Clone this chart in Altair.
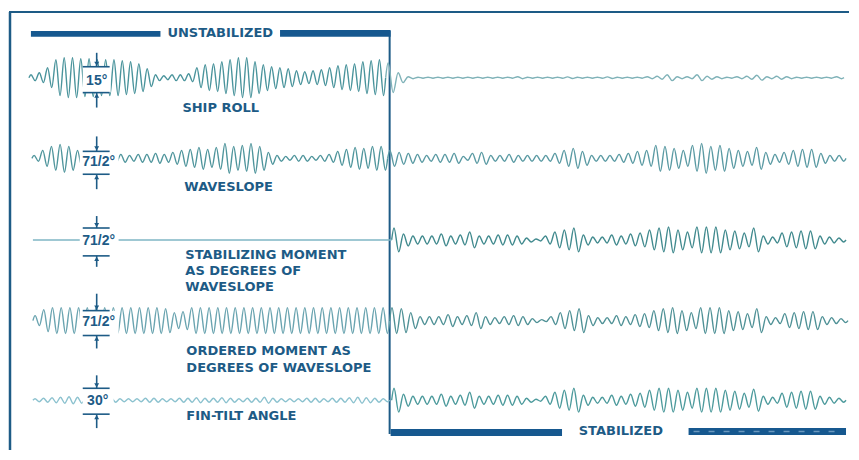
import altair as alt
import pandas as pd

# ---------------- data ----------------
# per-cycle amplitudes (chart units) of each oscillograph trace
roll_unstab = [3, 5, 10, 18, 20, 20, 19, 19, 18, 18, 18, 17, 16, 14, 9, 3, 2, 3, 3, 4, 10, 13,
               14, 16, 18, 20, 20, 16, 13, 11, 10, 9, 7, 6, 7, 8, 10, 12, 13, 14, 16, 17, 18]
roll_stab = [15, 5, 1, 0.5, 0.5, 0.5, 0.5, 0.5, 0.5, 0.5, 0.5, 0.5, 0.5, 1, 0.5, 0.5, 0.5, 0.5,
             0.8, 0.5, 0.5, 0.5, 0.8, 0.5, 0.5, 0.5, 1, 1.5, 3, 1, 1, 3, 1.5, 1, 0.5, 1, 1.5, 2.5,
             1, 1.5, 1, 0.5, 0.5, 0.5, 0.5, 1]
wave_unstab = [3, 8, 12, 14, 12, 8, 5, 4, 4, 4, 4, 3, 4, 4, 5, 4, 6, 8, 9, 11, 9, 11, 15, 12,
               13, 15, 12, 6, 3, 2, 3, 3, 2, 3, 4, 7, 9, 11, 10, 12, 12]
wave_stab = [8, 6, 5, 4, 3, 4, 4, 5, 2, 5, 6, 3, 3, 4, 3, 3, 3, 3, 5, 8, 10, 7, 3, 3, 3, 4, 5,
             7, 8, 13, 12, 10, 8, 13, 15, 12, 13, 10, 8, 7, 11, 6, 4, 6, 8, 9, 9, 5, 3, 3]
stabmom_stab = [12, 6, 4, 4, 4, 6, 4, 5, 8, 4, 4, 5, 5, 4, 2, 1, 4, 8, 10, 12, 5, 3, 3, 5, 4,
                6, 7, 10, 12, 13, 10, 8, 13, 13, 13, 10, 9, 7, 12, 4, 3, 7, 8, 9, 9, 4, 3, 2]
ordmom_unstab = [5, 11, 13, 13, 13, 13, 13, 13, 13, 13, 13, 13, 13, 13, 13, 12, 8, 9, 13, 13,
                 13, 13, 13, 13, 13, 13, 13, 13, 13, 13, 13, 13, 13, 13, 13, 13, 13, 13, 13, 13, 13]
ordmom_stab = [13, 12, 8, 4, 4, 4, 6, 4, 5, 8, 4, 3, 4, 5, 4, 2, 1, 4, 8, 10, 12, 5, 3, 3, 5,
               4, 6, 7, 10, 12, 13, 10, 8, 13, 13, 13, 10, 9, 7, 12, 4, 3, 7, 8, 9, 9, 4, 3, 2]
fin_unstab = [1.5, 2, 2.5, 3, 3.5, 3, 2.5, 2, 2, 2, 1.5, 1.5, 1.5, 2, 2, 1.5, 1.5, 2, 2, 2.5,
              2, 2, 2.5, 2, 1.5, 2, 2, 3, 2, 1.5, 1.5, 1.5, 2, 2, 1.5, 2, 2, 2.5, 3, 2.5, 2, 1.5]
fin_stab = [12, 6, 4, 4, 4, 6, 4, 5, 8, 4, 4, 5, 5, 4, 2, 1, 4, 8, 10, 12, 5, 3, 3, 5, 4,
            6, 7, 10, 12, 12, 10, 8, 12, 12, 12, 10, 9, 7, 11, 4, 3, 7, 8, 9, 9, 4, 3, 2]

trace_names = ["SHIP ROLL", "WAVESLOPE", "STABILIZING MOMENT AS DEGREES OF WAVESLOPE",
               "ORDERED MOMENT AS DEGREES OF WAVESLOPE", "FIN-TILT ANGLE"]
scale_labels = ["15°", "71/2°", "71/2°", "71/2°", "30°"]
caption_lines = ["SHIP ROLL", "WAVESLOPE", "STABILIZING MOMENT", "AS DEGREES OF", "WAVESLOPE",
                 "ORDERED MOMENT AS", "DEGREES OF WAVESLOPE", "FIN-TILT ANGLE"]
header_labels = ["UNSTABILIZED", "STABILIZED"]

# ---------------- layout (chart units) ----------------
DARK = "#1d5b86"
BAR = "#16588f"
centers = [78, 159, 241, 322, 402]

segments = [
    # (key, amplitudes, x start, x end, row, colour)
    ("r1a", roll_unstab, 28, 386, 0, "#4a949c"),
    ("r1b", roll_stab, 386, 846, 0, "#7fb2b8"),
    ("r2a", wave_unstab, 31, 388, 1, "#4f959c"),
    ("r2b", wave_stab, 388, 848, 1, "#5a9aa3"),
    ("r3b", stabmom_stab, 392, 848, 2, "#418a8e"),
    ("r4a", ordmom_unstab, 32, 390, 3, "#6aa4b0"),
    ("r4b", ordmom_stab, 390, 850, 3, "#4f9196"),
    ("r5a", fin_unstab, 32, 390, 4, "#8cc2cf"),
    ("r5b", fin_stab, 392, 848, 4, "#4c9a9c"),
]

rows = []
for key, amps, x0, x1, r, col in segments:
    c = centers[r]
    p = (x1 - x0) / len(amps)
    k = 0
    rows.append(dict(seg=key, i=k, x=x0, y=c, col=col)); k += 1
    for j, a in enumerate(amps):
        rows.append(dict(seg=key, i=k, x=x0 + (j + 0.25) * p, y=c - a, col=col)); k += 1
        rows.append(dict(seg=key, i=k, x=x0 + (j + 0.75) * p, y=c + a, col=col)); k += 1
    rows.append(dict(seg=key, i=k, x=x1, y=c, col=col))
# flat stabilizing-moment trace while unstabilized
rows.append(dict(seg="r3a", i=0, x=32, y=centers[2], col="#7fb6c4"))
rows.append(dict(seg="r3a", i=1, x=392, y=centers[2], col="#7fb6c4"))
traces = pd.DataFrame(rows)

XS = alt.Scale(domain=[8, 851], nice=False, zero=False)
YS = alt.Scale(domain=[8, 452], reverse=True, nice=False, zero=False)


def X(f):
    return alt.X(f, type="quantitative", scale=XS, axis=None)


def Y(f):
    return alt.Y(f, type="quantitative", scale=YS, axis=None)


lines = alt.Chart(traces).mark_line(interpolate="monotone", strokeWidth=1.4).encode(
    x=X("x"), y=Y("y"), detail="seg:N", order="i:Q", color=alt.Color("col:N", scale=None)
)

# scale markers
top_line = [67, 152, 229, 312, 390]
bot_line = [93, 175, 257, 337, 416]
arr_top = [53, 137, 217, 295, 377]
arr_bot = [108, 190, 268, 350, 430]
dims = pd.DataFrame(dict(label=scale_labels, c=[81, 163, 242, 323, 403],
                         t=top_line, b=bot_line, at=arr_top, ab=arr_bot,
                         wl=[82, 79, 79, 79, 82], wr=[110, 118, 118, 118, 113],
                         xl=[82] * 5, xr=[109] * 5, xc=[96] * 5,
                         xt=[96, 98, 98, 98, 97]))
dims["tt"] = dims["t"] - 3
dims["bb"] = dims["b"] + 3

white = alt.Chart(dims).mark_rect(color="white").encode(
    x=X("wl"), x2="wr", y=Y("t"), y2="b")
hl_top = alt.Chart(dims).mark_rule(color=DARK, strokeWidth=1.6).encode(
    x=X("xl"), x2="xr", y=Y("t"))
hl_bot = alt.Chart(dims).mark_rule(color=DARK, strokeWidth=1.6).encode(
    x=X("xl"), x2="xr", y=Y("b"))
v_top = alt.Chart(dims).mark_rule(color=DARK, strokeWidth=1.6).encode(
    x=X("xc"), y=Y("at"), y2="t")
v_bot = alt.Chart(dims).mark_rule(color=DARK, strokeWidth=1.6).encode(
    x=X("xc"), y=Y("b"), y2="ab")
a_top = alt.Chart(dims).mark_point(shape="triangle-down", filled=True, size=24, color=DARK,
                                   opacity=1).encode(x=X("xc"), y=Y("tt"))
a_bot = alt.Chart(dims).mark_point(shape="triangle-up", filled=True, size=24, color=DARK,
                                   opacity=1).encode(x=X("xc"), y=Y("bb"))
dim_text = alt.Chart(dims).mark_text(font="Liberation Sans", fontSize=14, fontWeight="bold",
                                     color=DARK, align="center", baseline="middle").encode(
    x=X("xt"), y=Y("c"), text="label:N")

caps = pd.DataFrame(dict(text=caption_lines, x=[182, 184, 185, 185, 185, 186, 186, 186],
                         y=[108, 188, 256, 272, 288, 353, 370, 418]))
cap_text = alt.Chart(caps).mark_text(font="DejaVu Sans", fontSize=13, fontWeight="bold",
                                     color=DARK, align="left", baseline="middle").encode(
    x=X("x"), y=Y("y"), text="text:N")

# frame and section bars
frame = pd.DataFrame(dict(x=[8, 9, 390], x2=[851, 9, 390], y=[12, 12, 31], y2=[12, 452, 436],
                          w=[2, 2.5, 2]))
frame_rules = alt.Chart(frame).mark_rule(color=DARK).encode(
    x=X("x"), x2="x2", y=Y("y"), y2="y2", strokeWidth=alt.StrokeWidth("w:Q", scale=None))
bars = pd.DataFrame(dict(x=[30, 280, 391, 690], x2=[160, 391, 563, 848],
                         y=[31, 30, 431, 430], y2=[37, 37, 438, 437]))
bar_rects = alt.Chart(bars).mark_rect(color=BAR).encode(x=X("x"), x2="x2", y=Y("y"), y2="y2")
texture = pd.DataFrame(dict(x=[695], x2=[845], y=[433.5]))
tex_rule = alt.Chart(texture).mark_rule(color="#8fb4d2", strokeWidth=1.5, strokeDash=[6, 9],
                                        opacity=0.7).encode(x=X("x"), x2="x2", y=Y("y"))
heads = pd.DataFrame(dict(text=header_labels, x=[220, 622], y=[33, 433]))
head_text = alt.Chart(heads).mark_text(font="DejaVu Sans", fontSize=13, fontWeight="bold",
                                       color=DARK, align="center", baseline="middle").encode(
    x=X("x"), y=Y("y"), text="text:N")

chart = alt.layer(
    frame_rules, bar_rects, tex_rule, lines, white, hl_top, hl_bot, v_top, v_bot, a_top, a_bot,
    dim_text, cap_text, head_text
).properties(
    width=843, height=444, padding=0,
    autosize=alt.AutoSizeParams(type="fit", contains="padding"),
    background="white",
).configure_view(stroke=None)

chart.save("out.html", embed_options={"renderer": "svg", "actions": False})
